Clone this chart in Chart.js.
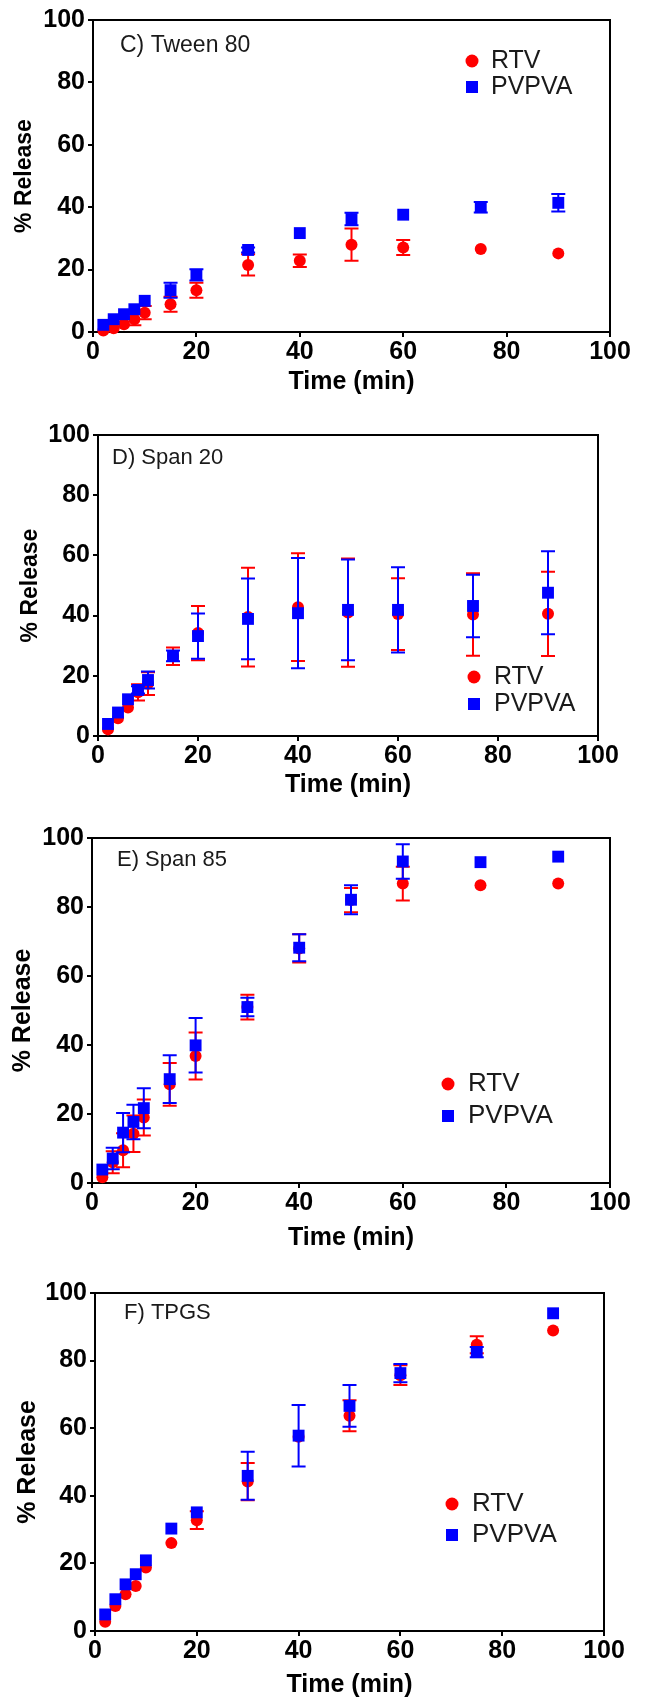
<!DOCTYPE html>
<html>
<head>
<meta charset="utf-8">
<title>% Release vs time</title>
<script src="https://cdn.jsdelivr.net/npm/chart.js"></script>
<style>
  html, body { margin:0; padding:0; background:#fff; overflow:hidden; }
  #page { position:relative; width:646px; height:1701px; }
  #page canvas { position:absolute; left:0; }
</style>
</head>
<body>
<div id="page">
  <canvas id="panelC"></canvas>
  <canvas id="panelD"></canvas>
  <canvas id="panelE"></canvas>
  <canvas id="panelF"></canvas>
</div>
<script>
/* ---------- data ---------- */

// sampling times, min (same in every panel)
const times = [2, 4, 6, 8, 10, 15, 20, 30, 40, 50, 60, 75, 90];
const tickValues = [0, 20, 40, 60, 80, 100];
const seriesNames = ['RTV', 'PVPVA'];
const panelLabels = ['C) Tween 80', 'D) Span 20', 'E) Span 85', 'F) TPGS'];

// C) Tween 80
const tweenRtv     = [0.5, 1.2, 2.5, 4.1, 6.2, 8.9, 13.4, 21.5, 22.8, 28.0, 27.1, 26.6, 25.2];
const tweenRtvSd   = [0, 0, 0, 1.9, 2.1, 2.4, 2.4, 3.4, 2.0, 5.2, 2.4, 0, 0];
const tweenPvpva   = [2.3, 4.1, 5.7, 7.3, 10.0, 13.4, 18.3, 26.3, 31.7, 36.2, 37.6, 40.0, 41.4];
const tweenPvpvaSd = [0, 0, 0, 0, 0, 2.4, 1.8, 0.8, 0, 2.0, 0, 1.7, 2.8];

// D) Span 20
const span20Rtv     = [2.2, 5.9, 9.5, 14.5, 17.4, 26.5, 34.2, 39.5, 42.8, 41.0, 40.5, 40.4, 40.6];
const span20RtvSd   = [0, 0, 0, 2.7, 3.8, 2.9, 9.0, 16.4, 17.9, 18.0, 11.9, 13.7, 14.0];
const span20Pvpva   = [4.0, 7.8, 12.2, 15.3, 18.6, 26.6, 33.2, 38.9, 40.8, 41.9, 41.9, 43.2, 47.6];
const span20PvpvaSd = [0, 0, 0, 1.2, 2.8, 1.8, 7.5, 13.4, 18.3, 16.7, 14.2, 10.4, 13.8];

// E) Span 85
const span85Rtv     = [1.7, 6.0, 9.5, 14.3, 19.0, 28.6, 36.8, 51.0, 68.0, 82.0, 86.8, 86.3, 86.8];
const span85RtvSd   = [0, 3.2, 4.9, 5.3, 5.2, 6.2, 6.8, 3.6, 4.1, 3.5, 4.9, 0, 0];
const span85Pvpva   = [3.9, 7.1, 14.6, 17.7, 21.7, 30.1, 39.9, 51.0, 68.2, 82.1, 93.2, 93.0, 94.6];
const span85PvpvaSd = [0, 3.1, 5.7, 5.0, 5.8, 6.9, 7.9, 2.7, 3.9, 4.2, 5.0, 0, 0];

// F) TPGS
const tpgsRtv     = [2.7, 7.4, 10.9, 13.3, 18.8, 26.0, 32.8, 44.2, 57.5, 63.7, 75.7, 84.7, 88.9];
const tpgsRtvSd   = [0, 0, 0, 0, 0, 0, 2.6, 5.5, 0, 4.6, 2.9, 2.5, 0];
const tpgsPvpva   = [4.9, 9.4, 13.8, 16.8, 20.9, 30.3, 35.1, 45.9, 57.8, 66.6, 76.3, 82.5, 94.0];
const tpgsPvpvaSd = [0, 0, 0, 0, 0, 0, 0, 7.1, 9.1, 6.2, 2.7, 1.5, 0];

/* ---------- layout (page px): where each panel sits ---------- */
// plot = [left, top, right, bottom]; legend = [markerX, textX, row1Y, row2Y, fontSize]
const LAYOUT = [
  { top:0,    bottom:400,  plot:[93, 20, 610, 332],    yTitleX:25, yTitleSize:23, xTitleY:382,  label:[120, 46, 23],   legend:[472, 491, 61, 87, 25] },
  { top:405,  bottom:803,  plot:[98, 435, 598, 736],   yTitleX:31, yTitleSize:23, xTitleY:785,  label:[112, 458, 22],  legend:[474, 494, 677, 704, 25] },
  { top:812,  bottom:1256, plot:[92, 838, 610, 1183],  yTitleX:23, yTitleSize:25, xTitleY:1238, label:[117, 860, 22],  legend:[448, 468, 1084, 1116, 26] },
  { top:1265, bottom:1701, plot:[95, 1293, 604, 1631], yTitleX:28, yTitleSize:25, xTitleY:1685, label:[124, 1313, 22], legend:[452, 472, 1504, 1535, 26] }
];

const PAGE_W = 646;
const RED = '#FF0000', BLUE = '#0000FF', INK = '#1a1a1a';
const FONT = "'Liberation Sans', Arial, sans-serif";

Chart.defaults.font.family = FONT;
Chart.defaults.color = '#000';

const pts = ys => times.map((t, i) => ({ x: t, y: ys[i] }));

// vertical +/- SD bars, drawn just before each dataset's symbols
const errorBars = {
  id: 'errorBars',
  beforeDatasetDraw(chart, args){
    const ds = chart.data.datasets[args.index];
    if (!ds.errors) return;
    const { ctx, scales:{ x, y } } = chart;
    ctx.save();
    ctx.strokeStyle = ds.borderColor;
    ctx.lineWidth = 2;
    ds.data.forEach((p, i) => {
      const sd = ds.errors[i];
      if (!sd) return;
      const px = x.getPixelForValue(p.x);
      const hi = y.getPixelForValue(p.y + sd), lo = y.getPixelForValue(p.y - sd);
      ctx.beginPath();
      ctx.moveTo(px, hi); ctx.lineTo(px, lo);
      ctx.moveTo(px - 7, hi); ctx.lineTo(px + 7, hi);
      ctx.moveTo(px - 7, lo); ctx.lineTo(px + 7, lo);
      ctx.stroke();
    });
    ctx.restore();
  }
};

// top + right edges of the box
const frame = {
  id: 'frame',
  beforeDatasetsDraw(chart){
    const { ctx, chartArea:a } = chart;
    ctx.save();
    ctx.strokeStyle = '#000'; ctx.lineWidth = 2;
    ctx.beginPath();
    ctx.moveTo(a.left, a.top); ctx.lineTo(a.right, a.top); ctx.lineTo(a.right, a.bottom);
    ctx.stroke();
    ctx.restore();
  }
};

// panel label + in-plot legend
function panelText(label, L){
  return {
    id: 'panelText',
    afterDraw(chart){
      const ctx = chart.ctx, oy = L.top;
      ctx.save();
      ctx.textAlign = 'left'; ctx.textBaseline = 'middle';
      ctx.fillStyle = INK;
      ctx.font = L.label[2] + 'px ' + FONT;
      ctx.fillText(label, L.label[0], L.label[1] - oy);
      const [mx, tx, y1, y2, fs] = L.legend;
      ctx.font = fs + 'px ' + FONT;
      chart.data.datasets.forEach((ds, i) => {
        const y = (i === 0 ? y1 : y2) - oy;
        ctx.fillStyle = ds.backgroundColor;
        if (ds.pointStyle === 'rect') ctx.fillRect(mx - 6, y - 6, 12, 12);
        else { ctx.beginPath(); ctx.arc(mx, y, 6.5, 0, Math.PI * 2); ctx.fill(); }
        ctx.fillStyle = INK;
        ctx.fillText(ds.label, tx, y);
      });
      ctx.restore();
    }
  };
}

function buildPanel(id, label, rtv, rtvSd, pv, pvSd, L){
  const [pl, pt, pr, pb] = L.plot;
  const canvas = document.getElementById(id);
  canvas.width = PAGE_W;
  canvas.height = L.bottom - L.top;
  canvas.style.top = L.top + 'px';
  const xTitleSize = 25;
  const fixTicks = s => { s.ticks = tickValues.map(v => ({ value: v })); };

  return new Chart(canvas, {
    type: 'scatter',
    data: { datasets: [
      { label: seriesNames[0], data: pts(rtv), errors: rtvSd, backgroundColor: RED, borderColor: RED,
        pointStyle: 'circle', pointRadius: 6, pointBorderWidth: 0, order: 1, clip: false },
      { label: seriesNames[1], data: pts(pv), errors: pvSd, backgroundColor: BLUE, borderColor: BLUE,
        pointStyle: 'rect', pointRadius: 8.4, pointBorderWidth: 0, order: 0, clip: false }
    ]},
    options: {
      responsive: false, animation: false, events: [],
      layout: { padding: { left: 0, top: pt - L.top, right: PAGE_W - pr, bottom: 0 } },
      plugins: { legend: { display: false }, tooltip: { enabled: false } },
      scales: {
        x: {
          type: 'linear', min: 0, max: 100,
          afterBuildTicks: fixTicks,
          afterFit: s => { s.height = L.bottom - pb; },
          ticks: { color: '#000', font: { size: 25, weight: 'bold' }, padding: 0, autoSkip: false, maxRotation: 0 },
          grid: { drawOnChartArea: false, tickLength: 5, color: '#000', lineWidth: 2 },
          border: { color: '#000', width: 2 },
          title: { display: true, text: 'Time (min)', color: '#000', font: { size: xTitleSize, weight: 'bold' },
                   padding: { top: 0, bottom: L.bottom - L.xTitleY - xTitleSize * 0.6 } }
        },
        y: {
          type: 'linear', min: 0, max: 100,
          afterBuildTicks: fixTicks,
          afterFit: s => { s.width = pl; },
          ticks: { color: '#000', font: { size: 25, weight: 'bold' }, padding: 3, autoSkip: false },
          grid: { drawOnChartArea: false, tickLength: 5, color: '#000', lineWidth: 2 },
          border: { color: '#000', width: 2 },
          title: { display: true, text: '% Release', color: '#000', font: { size: L.yTitleSize, weight: 'bold' },
                   padding: { top: L.yTitleX - L.yTitleSize * 0.6, bottom: 0 } }
        }
      }
    },
    plugins: [frame, errorBars, panelText(label, L)]
  });
}

buildPanel('panelC', panelLabels[0], tweenRtv, tweenRtvSd, tweenPvpva, tweenPvpvaSd, LAYOUT[0]);
buildPanel('panelD', panelLabels[1], span20Rtv, span20RtvSd, span20Pvpva, span20PvpvaSd, LAYOUT[1]);
buildPanel('panelE', panelLabels[2], span85Rtv, span85RtvSd, span85Pvpva, span85PvpvaSd, LAYOUT[2]);
buildPanel('panelF', panelLabels[3], tpgsRtv, tpgsRtvSd, tpgsPvpva, tpgsPvpvaSd, LAYOUT[3]);
</script>
</body>
</html>
